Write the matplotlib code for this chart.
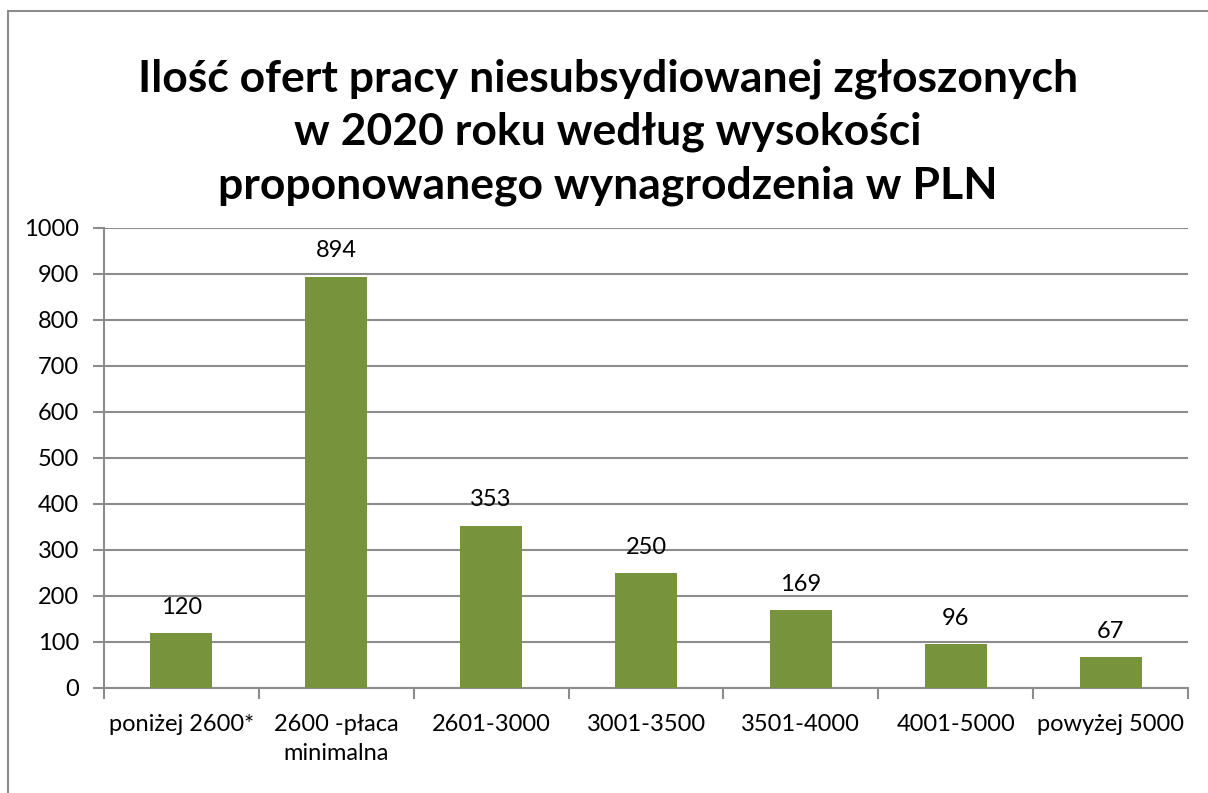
import matplotlib
matplotlib.use("Agg")
import matplotlib.pyplot as plt
from matplotlib.patches import Rectangle

categories = ["poniżej 2600*", "2600 -płaca\nminimalna", "2601-3000", "3001-3500",
              "3501-4000", "4001-5000", "powyżej 5000"]
values = [120, 894, 353, 250, 169, 96, 67]
yticks = [0, 100, 200, 300, 400, 500, 600, 700, 800, 900, 1000]
title = "Ilość ofert pracy niesubsydiowanej zgłoszonych\nw 2020 roku według wysokości\nproponowanego wynagrodzenia w PLN"

plt.rcParams['font.family'] = ['Lato', 'DejaVu Sans']

W, H = 1208, 793
fig = plt.figure(figsize=(W / 100, H / 100), dpi=100)
fig.patches.append(Rectangle((8 / W, -0.1), 1.2, 1 - 11 / H + 0.1, transform=fig.transFigure,
                             fill=False, edgecolor='#8c8c8c', linewidth=1.5))

ax = fig.add_axes([104 / W, 1 - 688 / H, (1188 - 104) / W, (688 - 228) / H])
x = list(range(len(values)))
ax.bar(x, values, width=0.4, color='#77933C', zorder=3)
ax.set_xlim(-0.5, len(values) - 0.5)
ax.set_ylim(0, 1000)
ax.set_yticks(yticks)
ax.set_yticklabels([str(v) for v in yticks], fontsize=17)
ax.set_xticks(x)
ax.set_xticklabels(categories, fontsize=17, linespacing=1.42)
ax.tick_params(axis='x', length=0, pad=19)
ax.tick_params(axis='y', length=8, width=1.5, color='#8c8c8c', pad=10)
ax.yaxis.grid(True, color='#8c8c8c', linewidth=1.5, zorder=0)
for s in ['top', 'right']:
    ax.spines[s].set_visible(False)
for s in ['left', 'bottom']:
    ax.spines[s].set_color('#8c8c8c')
    ax.spines[s].set_linewidth(1.5)
ax.set_xticks([i - 0.5 for i in range(len(values) + 1)], minor=True)
ax.tick_params(axis='x', which='minor', length=8, width=1.5, color='#8c8c8c')

for xi, v in zip(x, values):
    ax.annotate(str(v), (xi, v), xytext=(0, 11), textcoords='offset points',
                ha='center', va='bottom', fontsize=17)

fig.text(0.5 + 8 / W / 2, 1 - 132 / H, title, ha='center', va='center', fontsize=32,
         fontweight='bold', linespacing=1.4)

fig.savefig("out.png", dpi=100)
